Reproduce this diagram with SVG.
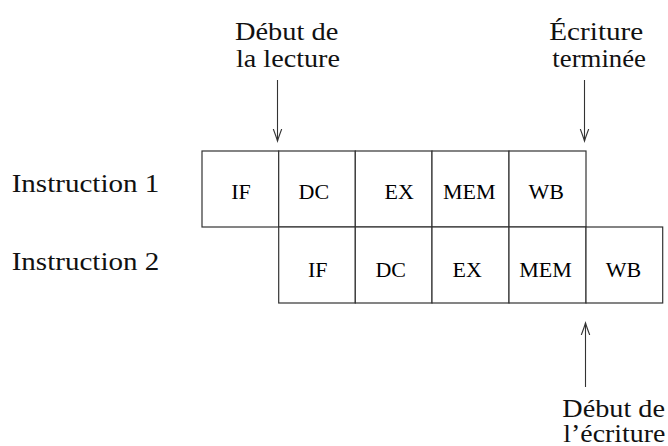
<svg xmlns="http://www.w3.org/2000/svg" width="668" height="446" viewBox="0 0 668 446">
  <style>
    .cell { fill: #ffffff; stroke: #333333; stroke-width: 1.2; }
    .stage { font-family: "Liberation Serif", "Times New Roman", serif; font-size: 22px; fill: #000000; text-anchor: middle; }
    .label { font-family: "Liberation Serif", "Times New Roman", serif; font-size: 25px; fill: #111111; }
    .arrow { stroke: #333333; stroke-width: 1.1; fill: none; }
  </style>
  <defs>
    <marker id="tip" viewBox="-12 -6 14 12" markerWidth="14" markerHeight="12" refX="0" refY="0" orient="auto" markerUnits="userSpaceOnUse">
      <path d="M -12,-4.2 Q -4,-1.2 0,0 Q -4,1.2 -12,4.2" fill="none" stroke="#333333" stroke-width="1.1"/>
    </marker>
  </defs>

  <!-- side labels -->
  <g id="label-instr1"><text class="label" x="11.7" y="192.3" textLength="147.6" lengthAdjust="spacingAndGlyphs">Instruction 1</text></g>
  <g id="label-instr2"><text class="label" x="11.7" y="270" textLength="147.6" lengthAdjust="spacingAndGlyphs">Instruction 2</text></g>

  <!-- annotation labels -->
  <g id="label-debut-lecture">
    <text class="label" x="235" y="40" textLength="103.3" lengthAdjust="spacingAndGlyphs">Début de</text>
    <text class="label" x="236" y="66.5" textLength="104" lengthAdjust="spacingAndGlyphs">la lecture</text>
  </g>
  <g id="label-ecriture-terminee">
    <text class="label" x="549.3" y="40" textLength="94" lengthAdjust="spacingAndGlyphs">Écriture</text>
    <text class="label" x="552.3" y="66.5" textLength="93.7" lengthAdjust="spacingAndGlyphs">terminée</text>
  </g>
  <g id="label-debut-ecriture">
    <text class="label" x="562.3" y="417" textLength="102.7" lengthAdjust="spacingAndGlyphs">Début de</text>
    <text class="label" x="563.3" y="441.5" textLength="102" lengthAdjust="spacingAndGlyphs">l’écriture</text>
  </g>

  <!-- instruction 1 pipeline -->
  <g id="i1-if"><rect class="cell" x="202" y="151" width="76.7" height="76"/><text class="stage" x="241" y="199.3">IF</text></g>
  <g id="i1-dc"><rect class="cell" x="278.7" y="151" width="76.6" height="76"/><text class="stage" x="313.8" y="199.3">DC</text></g>
  <g id="i1-ex"><rect class="cell" x="355.3" y="151" width="76.7" height="76"/><text class="stage" x="399.2" y="199.3">EX</text></g>
  <g id="i1-mem"><rect class="cell" x="432" y="151" width="77" height="76"/><text class="stage" x="469.2" y="199.3">MEM</text></g>
  <g id="i1-wb"><rect class="cell" x="509" y="151" width="77" height="76"/><text class="stage" x="546.2" y="199.3">WB</text></g>

  <!-- instruction 2 pipeline -->
  <g id="i2-if"><rect class="cell" x="278.7" y="227" width="76.6" height="76"/><text class="stage" x="317.8" y="277">IF</text></g>
  <g id="i2-dc"><rect class="cell" x="355.3" y="227" width="76.7" height="76"/><text class="stage" x="390.7" y="277">DC</text></g>
  <g id="i2-ex"><rect class="cell" x="432" y="227" width="77" height="76"/><text class="stage" x="467.2" y="277">EX</text></g>
  <g id="i2-mem"><rect class="cell" x="509" y="227" width="77" height="76"/><text class="stage" x="545.5" y="277">MEM</text></g>
  <g id="i2-wb"><rect class="cell" x="586" y="227" width="76.7" height="76"/><text class="stage" x="623.5" y="277">WB</text></g>

  <!-- connectors -->
  <g id="connectors">
    <line class="arrow" x1="277.5" y1="80" x2="277.5" y2="141" marker-end="url(#tip)"/>
    <line class="arrow" x1="584.5" y1="80" x2="584.5" y2="141" marker-end="url(#tip)"/>
    <line class="arrow" x1="585.5" y1="387" x2="585.5" y2="323" marker-end="url(#tip)"/>
  </g>
</svg>
